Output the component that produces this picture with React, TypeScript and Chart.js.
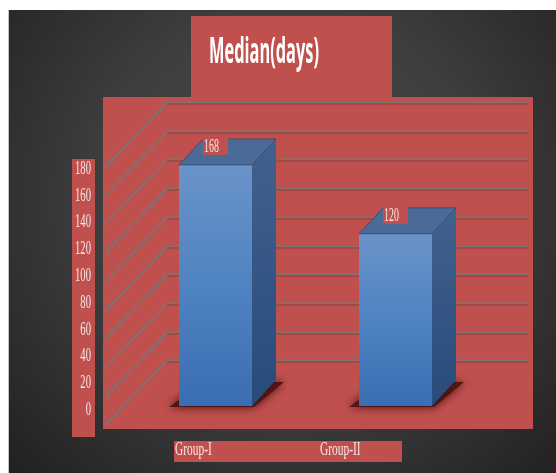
import React, { useEffect, useRef } from "react";
import { Chart, registerables } from "chart.js";

Chart.register(...registerables);

const categories: string[] = ["Group-I", "Group-II"];
const medianDays: number[] = [168, 120];
const axisTickLabels: number[] = [0, 20, 40, 60, 80, 100, 120, 140, 160, 180];
const wallGridValues: number[] = [20, 40, 60, 80, 100, 120, 140, 160, 180, 200];
const chartTitle = "Median(days)";

const RED = "#c0504d";
const LABEL_COLOR = "#f5e8e8";

function squeezedText(
  ctx: CanvasRenderingContext2D,
  text: string,
  x: number,
  y: number,
  font: string,
  sx: number,
  align: CanvasTextAlign,
  color: string,
  baseline: CanvasTextBaseline = "alphabetic"
) {
  ctx.save();
  ctx.translate(x, y);
  ctx.scale(sx, 1);
  ctx.font = font;
  ctx.textAlign = align;
  ctx.textBaseline = baseline;
  ctx.fillStyle = color;
  ctx.fillText(text, 0, 0);
  ctx.restore();
}

// depth offsets of the 3-D effect
const BAR_DX = 24;
const BAR_DY = -26;
const WALL_DX = 62;
const WALL_DY = -65;
const WALL_LIFT = 17;

const decorPlugin = {
  id: "decor",
  beforeDraw(chart: any) {
    const ctx: CanvasRenderingContext2D = chart.ctx;
    const W = chart.width;
    const H = chart.height;
    const ca = chart.chartArea;
    const y = chart.scales.y;
    ctx.save();
    // background
    const g = ctx.createRadialGradient(280, 190, 0, 280, 190, 380);
    g.addColorStop(0, "#4b4b4b");
    g.addColorStop(0.5, "#3e3e3e");
    g.addColorStop(1, "#222222");
    ctx.fillStyle = g;
    ctx.fillRect(0, 0, W, H);
    ctx.fillStyle = "#c4c4c4";
    ctx.fillRect(0, 0, 1, H);

    // title box
    ctx.fillStyle = RED;
    ctx.fillRect(183, 6, 201, 82);
    ctx.font = "bold 35px 'Open Sans'";
    const tw = ctx.measureText(chartTitle).width || 220;
    squeezedText(ctx, chartTitle, 256, 53, "bold 35px 'Open Sans'", 110 / tw, "center", "#ffffff");

    // plot box
    const box = { l: 95, t: 87, r: 525, b: 419 };
    ctx.fillStyle = RED;
    ctx.fillRect(box.l, box.t, box.r - box.l, box.b - box.t);

    // wall gridlines
    const wallLeft = ca.left + 41.5;
    const wallRight = 520;
    ctx.save();
    ctx.beginPath();
    ctx.rect(box.l + 2, box.t, box.r - box.l - 2, box.b - box.t - 2);
    ctx.clip();
    wallGridValues.forEach((v) => {
      const yb = Math.round(y.getPixelForValue(v) - WALL_LIFT) + 0.5;
      ctx.strokeStyle = "#807272";
      ctx.lineWidth = 2;
      ctx.beginPath();
      ctx.moveTo(wallLeft - WALL_DX, yb - WALL_DY);
      ctx.lineTo(wallLeft, yb);
      ctx.lineTo(wallRight, yb);
      ctx.stroke();
      ctx.strokeStyle = "rgba(140,50,48,0.8)";
      ctx.lineWidth = 1;
      ctx.beginPath();
      ctx.moveTo(wallLeft, yb + 1.5);
      ctx.lineTo(wallRight, yb + 1.5);
      ctx.stroke();
    });
    ctx.restore();

    // y label box
    ctx.fillStyle = RED;
    ctx.fillRect(64, 149, 23, 278);
    const base = y.getPixelForValue(0);
    axisTickLabels.forEach((v) => {
      const py = base + 3 + (y.getPixelForValue(v) - base) * 0.934;
      squeezedText(ctx, String(v), 83, py + 1, "19px 'Liberation Serif'", 0.56, "right", LABEL_COLOR, "middle");
    });

    // category label box
    ctx.fillStyle = RED;
    ctx.fillRect(166, 431, 228, 21);
    categories.forEach((c, i) => {
      squeezedText(ctx, c, 167 + i * 145, 445, "19px 'Liberation Serif'", 0.6, "left", LABEL_COLOR);
    });
    ctx.restore();
  },
  beforeDatasetsDraw(chart: any) {
    const ctx: CanvasRenderingContext2D = chart.ctx;
    const meta = chart.getDatasetMeta(0);
    ctx.save();
    meta.data.forEach((bar: any) => {
      const l = bar.x - bar.width / 2;
      const r = bar.x + bar.width / 2;
      const b = bar.base;
      if (![l, r, b].every(Number.isFinite)) return;
      ctx.shadowColor = "rgba(45,5,5,0.95)";
      ctx.shadowBlur = 10;
      ctx.fillStyle = "rgba(75,18,18,0.9)";
      ctx.beginPath();
      ctx.moveTo(l - 10, b + 1);
      ctx.lineTo(r + 2, b + 1);
      ctx.lineTo(r + BAR_DX + 8, b + BAR_DY + 2);
      ctx.lineTo(l + BAR_DX, b + BAR_DY + 2);
      ctx.closePath();
      ctx.fill();
    });
    ctx.restore();
  },
  afterDatasetsDraw(chart: any) {
    const ctx: CanvasRenderingContext2D = chart.ctx;
    const meta = chart.getDatasetMeta(0);
    ctx.save();
    meta.data.forEach((bar: any, i: number) => {
      const l = bar.x - bar.width / 2;
      const r = bar.x + bar.width / 2;
      const t = bar.y;
      const b = bar.base;
      if (![l, r, t, b].every(Number.isFinite)) return;
      // side face
      const sg = ctx.createLinearGradient(0, t + BAR_DY, 0, b);
      sg.addColorStop(0, "#42618d");
      sg.addColorStop(1, "#284b7b");
      ctx.fillStyle = sg;
      ctx.beginPath();
      ctx.moveTo(r, t);
      ctx.lineTo(r + BAR_DX, t + BAR_DY);
      ctx.lineTo(r + BAR_DX, b + BAR_DY);
      ctx.lineTo(r, b);
      ctx.closePath();
      ctx.fill();
      // top face
      ctx.fillStyle = "#4b6b97";
      ctx.beginPath();
      ctx.moveTo(l, t);
      ctx.lineTo(l + BAR_DX, t + BAR_DY);
      ctx.lineTo(r + BAR_DX, t + BAR_DY);
      ctx.lineTo(r, t);
      ctx.closePath();
      ctx.fill();
      ctx.strokeStyle = "rgba(40,60,100,0.6)";
      ctx.lineWidth = 1;
      ctx.stroke();
      // value label
      const bx = l + BAR_DX;
      const by = t + BAR_DY - 1;
      ctx.fillStyle = RED;
      ctx.fillRect(bx, by, 25, 17);
      squeezedText(ctx, String(medianDays[i]), bx + 1, by + 9, "18px 'Liberation Serif'", 0.55, "left", LABEL_COLOR, "middle");
    });
    ctx.restore();
  },
};

export default function App() {
  const ref = useRef<HTMLCanvasElement | null>(null);
  useEffect(() => {
    if (!ref.current) return;
    const chart = new Chart(ref.current, {
      type: "bar",
      data: {
        labels: categories,
        datasets: [
          {
            label: chartTitle,
            data: medianDays,
            barPercentage: 73 / 180,
            categoryPercentage: 1,
            borderWidth: 0,
            backgroundColor: (c: any) => {
              const ch = c.chart;
              const ys = ch.scales && ch.scales.y;
              if (!ys || c.raw === undefined || !ch.chartArea) return "#4f83c2";
              const top = ys.getPixelForValue(c.raw);
              const bot = ys.getPixelForValue(0);
              if (!Number.isFinite(top) || !Number.isFinite(bot) || top === bot) return "#4f83c2";
              const g = ch.ctx.createLinearGradient(0, top, 0, bot);
              g.addColorStop(0, "#6a93c9");
              g.addColorStop(0.5, "#4f83c2");
              g.addColorStop(1, "#3a6db1");
              return g;
            },
          },
        ],
      },
      options: {
        responsive: false,
        animation: false,
        devicePixelRatio: 1,
        layout: { padding: { left: 117.5, right: 70.5, top: 109, bottom: 67 } },
        scales: {
          x: { display: false },
          y: { display: false, min: 0, max: 200 },
        },
        plugins: {
          legend: { display: false },
          title: { display: false },
          tooltip: { enabled: false },
        },
      },
      plugins: [decorPlugin],
    });
    return () => chart.destroy();
  }, []);
  return (
    <div style={{ position: "fixed", left: 8, top: 10, width: 548, height: 463 }}>
      <canvas ref={ref} width={548} height={463} style={{ display: "block", width: 548, height: 463 }} />
    </div>
  );
}
